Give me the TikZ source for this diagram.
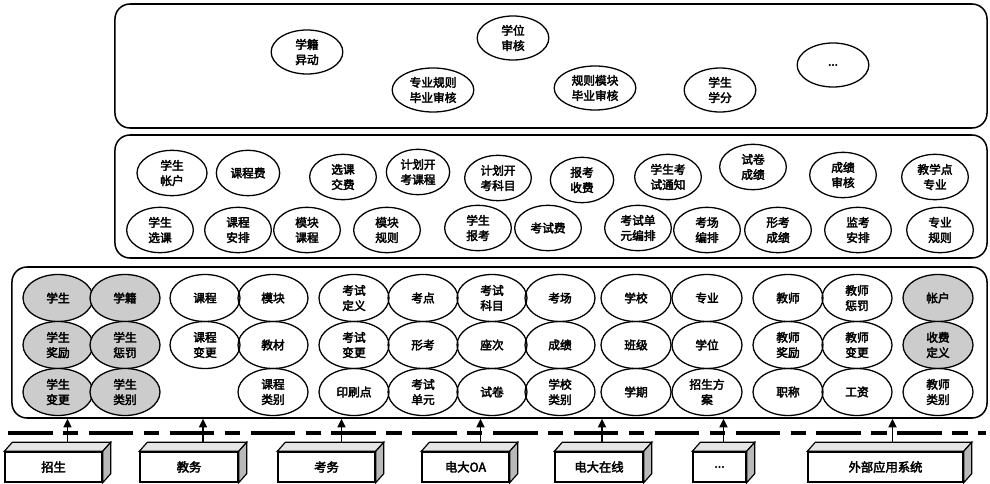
\documentclass[tikz,border=0pt]{standalone}
\usepackage{fontspec}
\newfontfamily\cjk[FakeBold=3]{Noto Sans CJK SC}
\usepackage{tikz}
\usetikzlibrary{arrows.meta, shapes.geometric, calc}
\tikzstyle{layer} = [rectangle, draw, line width=1.3pt, rounded corners=0.45cm]
\tikzstyle{ent} = [ellipse, draw, line width=1.1pt, minimum width=2.1cm, minimum height=1.41cm,
  inner sep=0pt, align=center, font=\cjk\fontsize{10}{13}\selectfont]
\tikzstyle{ents} = [ent, fill=gray!40]
\tikzstyle{fn} = [ent, minimum width=2.0cm, minimum height=1.36cm]
\tikzstyle{app} = [ent, minimum width=2.15cm, minimum height=1.32cm]
\tikzstyle{sys} = [rectangle, draw, line width=1.2pt, fill=white, minimum height=0.9cm,
  inner sep=0pt, font=\cjk\fontsize{10.5}{12}\selectfont]
\tikzstyle{arrow} = [line width=1.4pt, -{Triangle[length=2.6mm, width=2.4mm]}]
\tikzstyle{bus} = [line width=2.8pt, dash pattern=on 38pt off 9pt on 13pt off 9pt]

\begin{document}
\begin{tikzpicture}[x=0.03cm, y=-0.03cm]
    \useasboundingbox (0,0) rectangle (990,484);
    % three layers
    \node[layer, minimum width=26.16cm, minimum height=3.72cm] (apps) at (551,66) {};
    \node[layer, minimum width=26.16cm, minimum height=3.69cm] (svc) at (551,196.5) {};
    \node[layer, minimum width=29.25cm, minimum height=4.53cm] (base) at (499.5,342.5) {};

    % application layer
    \node[app] (xjyd) at (307,52) {学籍\\异动};
    \node[app] (xwsh) at (513,38) {学位\\审核};
    \node[app, minimum width=2.45cm] (zygz) at (433,90) {专业规则\\毕业审核};
    \node[app, minimum width=2.45cm] (gzmk) at (595,88) {规则模块\\毕业审核};
    \node[app] (xsxf) at (720,90) {学生\\学分};
    \node[app] (appmore) at (833,65) {...};

    % service layer, upper row
    \node[fn, minimum width=2.1cm] (xszh) at (172,173) {学生\\帐户};
    \node[fn, minimum width=1.9cm] (kcf) at (248,173) {课程费};
    \node[fn] (xkjf) at (343,177) {选课\\交费};
    \node[fn, minimum width=1.9cm] (jhkc) at (418,172) {计划开\\考课程};
    \node[fn] (jhkm) at (498,178) {计划开\\考科目};
    \node[fn, minimum width=1.9cm] (bksf) at (582,180) {报考\\收费};
    \node[fn] (kstz) at (668,177) {学生考\\试通知};
    \node[fn] (sjcj) at (753,167) {试卷\\成绩};
    \node[fn] (cjsh) at (843,175) {成绩\\审核};
    \node[fn] (jxd) at (935,177) {教学点\\专业};
    % service layer, lower row
    \node[fn] (xsxk) at (160,230) {学生\\选课};
    \node[fn] (kcap) at (238,230) {课程\\安排};
    \node[fn] (mkkc) at (307,230) {模块\\课程};
    \node[fn] (mkgz) at (387,230) {模块\\规则};
    \node[fn] (xsbk) at (478,228) {学生\\报考};
    \node[fn] (ksf) at (548,228) {考试费};
    \node[fn] (ksdy) at (638,228) {考试单\\元编排};
    \node[fn] (kcbp) at (707,230) {考场\\编排};
    \node[fn] (xkcj) at (778,230) {形考\\成绩};
    \node[fn] (jkap) at (858,230) {监考\\安排};
    \node[fn] (zygz2) at (940,230) {专业\\规则};

    % base data layer
    \node[ents] (xs) at (58,298) {学生};
    \node[ents] (xj) at (125,298) {学籍};
    \node[ents] (xsjl) at (58,345) {学生\\奖励};
    \node[ents] (xscf) at (125,345) {学生\\惩罚};
    \node[ents] (xsbg) at (58,392) {学生\\变更};
    \node[ents] (xslb) at (125,392) {学生\\类别};
    \node[ent] (kc) at (205,298) {课程};
    \node[ent] (mk) at (273,298) {模块};
    \node[ent] (kcbg) at (205,345) {课程\\变更};
    \node[ent] (jc) at (273,345) {教材};
    \node[ent] (kclb) at (273,392) {课程\\类别};
    \node[ent] (ksdy2) at (354,298) {考试\\定义};
    \node[ent] (kd) at (423,298) {考点};
    \node[ent] (kskm) at (492,298) {考试\\科目};
    \node[ent] (kc2) at (560,298) {考场};
    \node[ent] (ksbg) at (354,345) {考试\\变更};
    \node[ent] (xk) at (423,345) {形考};
    \node[ent] (zc) at (492,345) {座次};
    \node[ent] (cj) at (560,345) {成绩};
    \node[ent] (ysd) at (354,392) {印刷点};
    \node[ent] (ksdy3) at (423,392) {考试\\单元};
    \node[ent] (sj) at (492,392) {试卷};
    \node[ent] (xxlb) at (560,392) {学校\\类别};
    \node[ent] (xx) at (636,298) {学校};
    \node[ent] (zy) at (707,298) {专业};
    \node[ent] (bj) at (636,345) {班级};
    \node[ent] (xw) at (707,345) {学位};
    \node[ent] (xq) at (636,392) {学期};
    \node[ent] (zsfa) at (707,392) {招生方\\案};
    \node[ent] (js) at (788,298) {教师};
    \node[ent] (jscf) at (857,298) {教师\\惩罚};
    \node[ent] (jsjl) at (788,345) {教师\\奖励};
    \node[ent] (jsbg) at (857,345) {教师\\变更};
    \node[ent] (zc2) at (788,392) {职称};
    \node[ent] (gz) at (857,392) {工资};
    \node[ents] (zh) at (938,298) {帐户};
    \node[ents] (sfdy) at (938,345) {收费\\定义};
    \node[ent] (jslb) at (938,392) {教师\\类别};

    % bus line
    \coordinate (busl) at (8,433);
    \coordinate (busr) at (986,433);
    \draw[bus] (busl) -- (busr);

    % outside systems
    \node[sys, minimum width=2.91cm] (zs) at (53.5,467) {招生};
    \node[sys, minimum width=2.94cm] (jw) at (189,467) {教务};
    \node[sys, minimum width=2.91cm] (kw) at (326.5,467) {考务};
    \node[sys, minimum width=2.61cm] (oa) at (465.5,467) {电大OA};
    \node[sys, minimum width=2.64cm] (zx) at (599,467) {电大在线};
    \node[sys, minimum width=1.59cm] (more) at (719.5,467) {...};
    \node[sys, minimum width=4.65cm] (ext) at (885.5,467) {外部应用系统};
    \foreach \n in {zs,jw,kw,oa,zx,more,ext}{
      \filldraw[line width=1pt, fill=gray!20] (\n.north west) -- ++(8,-9)
        -- ($(\n.north east)+(8,-9)$) -- (\n.north east) -- cycle;
      \filldraw[line width=1pt, fill=gray!55] (\n.north east) -- ($(\n.north east)+(8,-9)$)
        -- ($(\n.south east)+(8,-9)$) -- (\n.south east) -- cycle;
    }
    \foreach \n/\s in {zs/14,jw/14,kw/15,oa/15,zx/3,more/4,ext/7}
      \draw[arrow] ($(\n.north)+(\s,-9)$) -- ($(\n.north |- base.south)+(\s,0)$);
\end{tikzpicture}
\end{document}
